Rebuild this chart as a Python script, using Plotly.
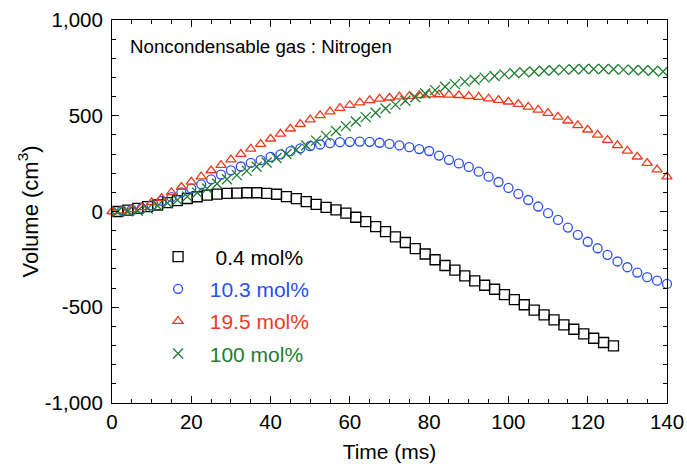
import plotly.graph_objects as go

# ---- data ----
t_sq = [1.5, 4, 6.5, 9, 11.5, 14, 16.5, 19, 21.5, 24, 26.5, 29, 31.5, 34, 36.5, 39, 41.5, 44, 46.5, 49,
        51.5, 54, 56.5, 59, 61.5, 64, 66.5, 69, 71.5, 74, 76.5, 79, 81.5, 84, 86.5, 89, 91.5, 94, 96.5, 99,
        101.5, 104, 106.5, 109, 111.5, 114, 116.5, 119, 121.5, 124, 126.5]
v_sq = [0, 7, 16, 25, 34, 46, 57, 68, 77, 86, 91, 95, 96, 98, 98, 95, 90, 78, 67, 52,
        37, 22, 8, -9, -30, -53, -79, -105, -133, -162, -194, -222, -252, -282, -306, -336, -362, -385, -406, -434,
        -460, -487, -515, -540, -566, -592, -615, -639, -662, -684, -702]

t_ci = [2.5, 5, 7.5, 10, 12.5, 15, 17.5, 20, 22.5, 25, 27.5, 30, 32.5, 35, 37.5, 40, 42.5, 45, 47.5, 50,
        52.5, 55, 57.5, 60, 62.5, 65, 67.5, 70, 72.5, 75, 77.5, 80, 82.5, 85, 87.5, 90, 92.5, 95, 97.5, 100,
        102.5, 105, 107.5, 110, 112.5, 115, 117.5, 120, 122.5, 125, 127.5, 130, 132.5, 135, 137.5, 140]
v_ci = [4, 10, 17, 32, 55, 75, 100, 120, 142, 168, 193, 215, 235, 254, 268, 285, 298, 315, 330, 342,
        350, 357, 362, 364, 365, 364, 359, 353, 345, 336, 326, 316, 292, 270, 251, 233, 208, 182, 154, 123,
        92, 60, 26, -9, -44, -84, -122, -158, -192, -226, -261, -291, -319, -343, -361, -378]

t_tr = [0, 2.5, 5, 7.5, 10, 12.5, 15, 17.5, 20, 22.5, 25, 27.5, 30, 32.5, 35, 37.5, 40, 42.5, 45, 47.5,
        50, 52.5, 55, 57.5, 60, 62.5, 65, 67.5, 70, 72.5, 75, 77.5, 80, 82.5, 85, 87.5, 90, 92.5, 95, 97.5,
        100, 102.5, 105, 107.5, 110, 112.5, 115, 117.5, 120, 122.5, 125, 127.5, 130, 132.5, 135, 137.5, 140]
v_tr = [0, 4, 11, 22, 48, 70, 100, 128, 155, 182, 214, 242, 271, 300, 327, 352, 380, 405, 432, 456,
        480, 502, 522, 540, 555, 569, 580, 588, 594, 600, 603, 607, 610, 611, 609, 607, 603, 597, 589, 582,
        573, 561, 546, 531, 514, 494, 474, 450, 427, 400, 373, 345, 317, 286, 253, 219, 182]

t_x = [1.5, 4, 6.5, 9, 11.5, 14, 16.5, 19, 21.5, 24, 26.5, 29, 31.5, 34, 36.5, 39, 41.5, 44, 46.5, 49,
       51.5, 54, 56.5, 59, 61.5, 64, 66.5, 69, 71.5, 74, 76.5, 79, 81.5, 84, 86.5, 89, 91.5, 94, 96.5, 99,
       101.5, 104, 106.5, 109, 111.5, 114, 116.5, 119, 121.5, 124, 126.5, 129, 131.5, 134, 136.5, 139]
v_x = [0, 1, 4, 15, 30, 44, 60, 78, 98, 120, 145, 168, 190, 212, 234, 256, 279, 300, 322, 345,
       370, 395, 420, 446, 470, 493, 516, 538, 558, 578, 597, 616, 634, 651, 665, 678, 688, 699, 708, 716,
       722, 727, 731, 735, 738, 741, 743, 744, 744, 744, 743, 741, 739, 738, 735, 731]

names = ["0.4 mol%", "10.3 mol%", "19.5 mol%", "100 mol%"]
colors = ["#000000", "#2b4ef0", "#ee3a1c", "#1e7d32"]
symbols = ["square-open", "circle-open", "triangle-up-open", "x-thin-open"]
sizes = [10, 9, 9, 10]
pads = ["\u00a0" * 3, "\u00a0" * 2, "\u00a0" * 2, "\u00a0" * 2]

FONT = "Liberation Sans, Arial, sans-serif"

fig = go.Figure()
for tx, vy, nm, col, sym, sz, pad, g in zip(
        [t_sq, t_ci, t_tr, t_x], [v_sq, v_ci, v_tr, v_x], names, colors, symbols, sizes, pads, range(4)):
    fig.add_trace(go.Scatter(
        x=tx, y=vy, mode="markers", cliponaxis=False,
        name=f"{pad}<span style='color:{col}'>{nm}</span>",
        legendgroup=f"g{g}",
        marker=dict(symbol=sym, size=sz, color=col, line=dict(color=col, width=1.3)),
    ))

axis_common = dict(
    showline=True, linecolor="black", linewidth=1, mirror="ticks",
    ticks="inside", ticklen=7, tickwidth=1, tickcolor="black",
    showgrid=False, zeroline=False,
    tickfont=dict(family=FONT, size=20.5, color="black"),
)

fig.update_xaxes(
    range=[0, 140], dtick=20, tick0=0,
    minor=dict(ticks="inside", dtick=5, ticklen=4, tickcolor="black", showgrid=False),
    title=dict(text="Time (ms)", font=dict(family=FONT, size=21, color="black"), standoff=12),
    **axis_common,
)
yt = [-1000, -500, 0, 500, 1000]
ytxt = ["-1,000", "-500", "0", "500", "1,000"]
fig.update_yaxes(
    range=[-1000, 1000], tickvals=yt, ticktext=ytxt, ticklabelstandoff=4,
    minor=dict(ticks="inside", dtick=100, tick0=0, ticklen=4, tickcolor="black", showgrid=False),
    title=dict(text="Volume (cm<sup>3</sup>)", font=dict(family=FONT, size=22, color="black"), standoff=0),
    **axis_common,
)

fig.add_annotation(
    text="Noncondensable gas : Nitrogen", xref="paper", yref="paper",
    x=0.028, y=0.932, xanchor="left", yanchor="middle", showarrow=False,
    font=dict(family=FONT, size=18.7, color="black"),
)

fig.update_layout(
    width=687, height=466,
    margin=dict(l=112, r=20, t=20, b=63, autoexpand=False),
    paper_bgcolor="white", plot_bgcolor="white",
    showlegend=True,
    legend=dict(
        x=0.083, y=0.435, xanchor="left", yanchor="top",
        bgcolor="rgba(0,0,0,0)", font=dict(family=FONT, size=21, color="black"),
        traceorder="grouped", tracegroupgap=2, itemsizing="trace",
    ),
)

fig.write_html("out.html")
